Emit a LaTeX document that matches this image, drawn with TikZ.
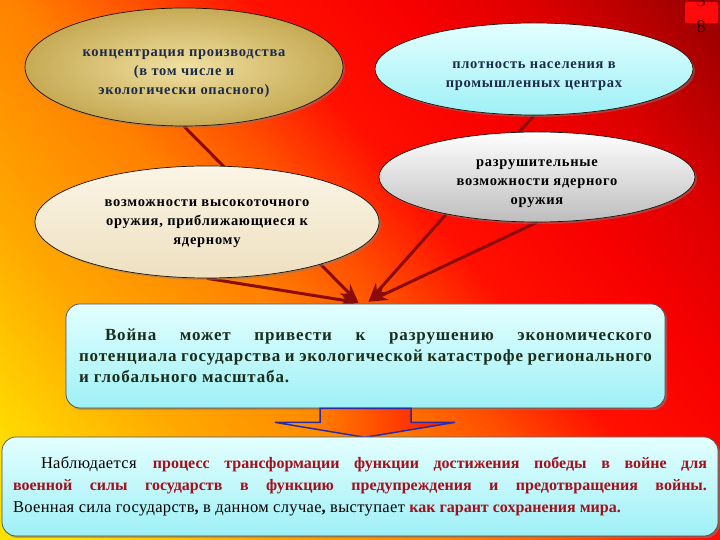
\documentclass[tikz,border=0pt]{standalone}
\usepackage{fontspec}
\setmainfont{Liberation Serif}
\newfontfamily\ellfont[LetterSpace=5]{Liberation Serif}
\newfontfamily\boxfont[LetterSpace=5]{Liberation Serif}
\newfontfamily\regfont[LetterSpace=2]{Liberation Serif}
\usetikzlibrary{shapes.geometric,shadows,arrows.meta,calc}
\definecolor{bgA}{HTML}{FFE000}
\definecolor{bgB}{HTML}{FFA800}
\definecolor{bgC}{HTML}{FF8000}
\definecolor{bgD}{HTML}{FF5000}
\definecolor{bgE}{HTML}{FF1000}
\definecolor{bgF}{HTML}{F80000}
\definecolor{bgG}{HTML}{DC0000}
\definecolor{bgH}{HTML}{A80000}
\definecolor{bgI}{HTML}{700000}
\definecolor{arrowred}{HTML}{8B0A0A}
\definecolor{navytext}{HTML}{1C2B4A}
\definecolor{greentext}{HTML}{1B2E1C}
\definecolor{redtext}{HTML}{A3101C}
\definecolor{bluearrow}{HTML}{2B2BA6}
\definecolor{cyantop}{HTML}{E4FFFF}
\definecolor{cyanbot}{HTML}{9EF0F6}
\definecolor{goldin}{HTML}{F0E0A0}
\definecolor{goldout}{HTML}{C6AA55}
\definecolor{creamtop}{HTML}{FBF5E6}
\definecolor{creambot}{HTML}{EEE0C0}
\definecolor{greybot}{HTML}{BDBDBD}
\definecolor{badgered}{HTML}{FF0A0A}
\definecolor{badgetext}{HTML}{3A0000}
\definecolor{arrowA}{HTML}{FFA000}
\definecolor{arrowB}{HTML}{FF1000}
\pgfdeclarehorizontalshading{bgshade}{100bp}{color(0bp)=(bgA); color(19bp)=(bgA); color(31bp)=(bgB); color(43bp)=(bgC); color(50bp)=(bgD); color(57bp)=(bgE); color(66bp)=(bgF); color(74bp)=(bgG); color(82bp)=(bgH); color(92bp)=(bgI); color(100bp)=(bgI)}
\pgfdeclarelayer{bglayer}
\pgfdeclarelayer{lines}
\pgfsetlayers{bglayer,lines,main}
\tikzset{
  ell/.style={ellipse, draw=black!85!brown, line width=0.7pt, inner sep=0pt,
    font=\ellfont\bfseries\fontsize{14.5}{19}\selectfont, align=center,
    drop shadow={opacity=0.45, shadow xshift=2pt, shadow yshift=-2pt}},
  conn/.style={draw=arrowred, line width=3pt, -{Stealth[length=19pt,width=14pt]}},
  infobox/.style={rectangle, rounded corners=14pt, draw=black!70, line width=0.7pt,
    top color=cyantop, bottom color=cyanbot, align=justify,
    drop shadow={opacity=0.55, shadow xshift=2pt, shadow yshift=-2pt}},
}
\newcommand{\lowr}{\rule{0pt}{21pt}}
\begin{document}
\begin{tikzpicture}[x=1pt,y=1pt]
\useasboundingbox (0,0) rectangle (720,540);
\begin{pgfonlayer}{bglayer}
\shade[shading=bgshade, shading angle=40] (0,0) rectangle (720,540);
\end{pgfonlayer}

\node[ell, minimum width=318pt, minimum height=118pt, inner color=goldin, outer color=goldout, text=navytext]
  (e1) at (184,473) {\lowr концентрация производства\\(в том числе и\\экологически опасного)};
\node[ell, minimum width=318pt, minimum height=92pt, top color=cyantop, bottom color=cyanbot, text=navytext]
  (e2) at (534,471) {\lowr плотность населения в\\промышленных центрах};
\node[ell, minimum width=316pt, minimum height=90pt, top color=white, bottom color=greybot, text=black]
  (e3) at (537,363) {\lowr разрушительные\\возможности ядерного\\оружия};
\node[ell, minimum width=344pt, minimum height=112pt, top color=creamtop, bottom color=creambot, text=black]
  (e4) at (207,318) {\rule{0pt}{10pt}возможности высокоточного\\оружия, приближающиеся к\\ядерному};

\node[infobox, text width=573pt, inner xsep=13pt, minimum height=104pt, text=greentext,
  font=\boxfont\bfseries\fontsize{17}{21}\selectfont] (box1) at (365.5,184)
  {\hspace*{26pt}Война может привести к разрушению экономического\linebreak потенциала государства и экологической катастрофе регионального\linebreak и глобального масштаба.};

\coordinate (tL) at ($(box1.north)+(-7,1)$);
\coordinate (tR) at ($(box1.north)+(3,2)$);
\begin{pgfonlayer}{lines}
\draw[conn] (e1.south) -- (tL);
\draw[conn] (e4.south) -- (tL);
\draw[conn] (e2.south) -- (tR);
\draw[conn] (e3.south) -- (tR);
\end{pgfonlayer}

\draw[bluearrow, line width=1.5pt, line join=miter, left color=arrowA, right color=arrowB]
  ($(box1.south)+(-45.5,0)$) -- ($(box1.south)+(-45.5,-14)$) -- ($(box1.south)+(-90.5,-14)$)
  -- ($(box1.south)+(-0.5,-29)$) -- ($(box1.south)+(89.5,-14)$) -- ($(box1.south)+(45.5,-14)$)
  -- ($(box1.south)+(45.5,0)$) -- cycle;

\node[infobox, text width=694pt, inner xsep=11pt, minimum width=716pt, minimum height=99pt, text=black,
  font=\regfont\fontsize{16.5}{22}\selectfont] (box2) at (360,53.5)
  {\hspace*{28pt}Наблюдается {\normalfont\fontsize{16}{22}\selectfont\bfseries\color{redtext}процесс трансформации функции достижения победы в войне для\linebreak военной силы государств в функцию предупреждения и предотвращения войны.}\linebreak Военная сила государств{\normalfont\bfseries,} в данном случае{\normalfont\bfseries,} выступает {\normalfont\fontsize{16}{22}\selectfont\bfseries\color{redtext}как гарант сохранения мира.}};

\node[fill=badgered, rounded corners=2pt, minimum width=33pt, minimum height=21pt, inner sep=0pt] (badge) at (701.5,527.5) {};
\node[font=\fontsize{18}{18}\selectfont, text=badgetext, inner sep=0pt] (n3) at (701,539) {3};
\node[font=\fontsize{18}{18}\selectfont, text=badgetext, inner sep=0pt] (n8) at (701,513) {8};
\end{tikzpicture}
\end{document}
